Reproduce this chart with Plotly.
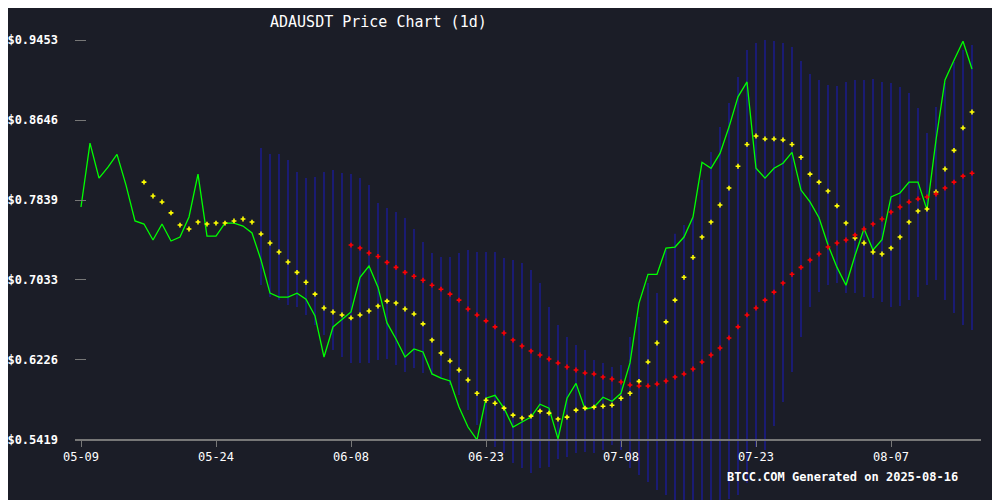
import pandas as pd
import plotly.graph_objects as go

# daily closes, 2025-05-09 .. 2025-08-16
start = "2025-05-09"
price = [0.7769, 0.8414, 0.806, 0.817, 0.830, 0.799, 0.7628, 0.7597, 0.7436, 0.7597,
         0.7426, 0.7466, 0.7668, 0.810, 0.7476, 0.7476, 0.7607, 0.7607, 0.7577, 0.7507,
         0.7234, 0.690, 0.686, 0.686, 0.690, 0.684, 0.667, 0.6256, 0.6559, 0.6639,
         0.671, 0.706, 0.7174, 0.696, 0.660, 0.6438, 0.6256, 0.6337, 0.6307, 0.6085,
         0.6044, 0.6014, 0.5752, 0.555, 0.5419, 0.584, 0.587, 0.574, 0.555, 0.560,
         0.565, 0.578, 0.574, 0.543, 0.584, 0.599, 0.573, 0.575, 0.585, 0.581,
         0.589, 0.6196, 0.680, 0.709, 0.709, 0.7355, 0.7365, 0.7466, 0.7668, 0.822,
         0.816, 0.831, 0.8575, 0.888, 0.903, 0.816, 0.806, 0.816, 0.821, 0.832,
         0.794, 0.782, 0.766, 0.7385, 0.716, 0.698, 0.728, 0.755, 0.7335, 0.744,
         0.787, 0.791, 0.802, 0.802, 0.774, 0.8445, 0.905, 0.925, 0.944, 0.916]

# short moving average (starts day 7)
sma_short = [None] * 7 + [
    0.802, 0.788, 0.782, 0.771, 0.7587, 0.7547, 0.7617, 0.7597, 0.7607, 0.7607,
    0.7628, 0.7648, 0.7617, 0.7497, 0.7406, 0.7315, 0.7214, 0.711, 0.701, 0.689,
    0.675, 0.671, 0.668, 0.665, 0.668, 0.672, 0.677, 0.682, 0.680, 0.674,
    0.669, 0.659, 0.6427, 0.6296, 0.6216, 0.6125, 0.6024, 0.589, 0.582, 0.579,
    0.574, 0.567, 0.564, 0.566, 0.571, 0.569, 0.563, 0.565, 0.572, 0.574,
    0.575, 0.576, 0.577, 0.584, 0.589, 0.601, 0.6206, 0.6397, 0.661, 0.683,
    0.706, 0.726, 0.7466, 0.7617, 0.7789, 0.796, 0.818, 0.840, 0.8485, 0.8455,
    0.8455, 0.8445, 0.840, 0.827, 0.810, 0.802, 0.793, 0.778, 0.7607, 0.7456,
    0.7406, 0.7315, 0.7295, 0.7355, 0.7466, 0.7617, 0.7728, 0.7748, 0.792, 0.8152,
    0.834, 0.8566, 0.8727]

# long moving average (starts day 30)
sma_long = [None] * 30 + [
    0.7385, 0.7355, 0.7305, 0.727, 0.721, 0.716, 0.711, 0.707, 0.703, 0.698,
    0.694, 0.689, 0.683, 0.674, 0.668, 0.662, 0.656, 0.6498, 0.6427, 0.6367,
    0.6316, 0.6276, 0.6236, 0.6196, 0.6155, 0.6125, 0.6095, 0.6085, 0.6054, 0.6034,
    0.6004, 0.5974, 0.5964, 0.5964, 0.5984, 0.6014, 0.6054, 0.6085, 0.6135, 0.6206,
    0.6276, 0.6347, 0.6448, 0.656, 0.668, 0.675, 0.683, 0.691, 0.7002, 0.709,
    0.716, 0.7234, 0.7295, 0.7365, 0.7406, 0.7436, 0.7486, 0.7547, 0.7597, 0.7648,
    0.7718, 0.7769, 0.782, 0.785, 0.787, 0.790, 0.796, 0.802, 0.808, 0.811]

# band upper / lower (starts day 20)
band_upper = [None] * 20 + [
    0.8364, 0.8303, 0.8303, 0.8243, 0.8122, 0.8061, 0.8071, 0.8122, 0.8142, 0.8112,
    0.8102, 0.8061, 0.7991, 0.7809, 0.7758, 0.7718, 0.7658, 0.7547, 0.7416, 0.7305,
    0.7265, 0.7265, 0.7305, 0.7335, 0.7315, 0.7315, 0.7315, 0.7255, 0.7234, 0.7204,
    0.7134, 0.7003, 0.6760, 0.6579, 0.6458, 0.6377, 0.6327, 0.6226, 0.6196, 0.6155,
    0.6176, 0.6458, 0.6660, 0.7003, 0.6902, 0.7335, 0.7500, 0.7587, 0.7658, 0.8041,
    0.8324, 0.8576, 0.8818, 0.9080, 0.9352, 0.9423, 0.9453, 0.9443, 0.9423, 0.9382,
    0.9241, 0.9110, 0.9050, 0.8999, 0.8989, 0.9029, 0.9050, 0.9050, 0.9060, 0.9029,
    0.9019, 0.8979, 0.8918, 0.8767, 0.8515, 0.8777, 0.9019, 0.9231, 0.9352, 0.9403]
band_lower = [None] * 20 + [
    0.6982, 0.6861, 0.6831, 0.6780, 0.6760, 0.6680, 0.6579, 0.6478, 0.6327, 0.6256,
    0.6196, 0.6196, 0.6196, 0.6226, 0.6236, 0.6175, 0.6105, 0.6145, 0.6095, 0.6075,
    0.6044, 0.5974, 0.5873, 0.5722, 0.5570, 0.5419, 0.5348, 0.5288, 0.5187, 0.5137,
    0.5086, 0.5137, 0.5147, 0.5227, 0.5248, 0.5288, 0.5298, 0.5288, 0.5318, 0.5369,
    0.5318, 0.5137, 0.5066, 0.4995, 0.4915, 0.4864, 0.4814, 0.4763, 0.4763, 0.4763,
    0.4763, 0.4763, 0.4824, 0.4864, 0.4985, 0.5348, 0.5318, 0.5560, 0.5802, 0.6105,
    0.6458, 0.6760, 0.6912, 0.6982, 0.7002, 0.6902, 0.6902, 0.6861, 0.6851, 0.6811,
    0.6760, 0.6770, 0.6831, 0.6861, 0.6982, 0.7033, 0.6831, 0.6700, 0.6579, 0.6528]

y_ticks = [0.5419, 0.6226, 0.7033, 0.7839, 0.8646, 0.9453]

dates = pd.date_range(start, periods=len(price), freq="D")

BG = "#1b1d27"
MONO = "DejaVu Sans Mono"

bx, by = [], []
for d, lo, hi in zip(dates, band_lower, band_upper):
    if lo is None:
        continue
    bx += [d, d, None]
    by += [lo, hi, None]

traces = [
    go.Scatter(x=bx, y=by, mode="lines", line=dict(color="#1c1ca8", width=1.2),
               hoverinfo="skip", showlegend=False),
    go.Scatter(x=dates, y=price, mode="lines", line=dict(color="#00ff00", width=1.3),
               showlegend=False),
    go.Scatter(x=dates, y=sma_short, mode="markers",
               marker=dict(symbol="cross", size=4, color="#ffff00", line=dict(width=0)),
               showlegend=False),
    go.Scatter(x=dates, y=sma_long, mode="markers",
               marker=dict(symbol="cross", size=4, color="#ff0000", line=dict(width=0)),
               showlegend=False),
]

fig = go.Figure(data=traces)
# page body adds ~8px offset, so layout is shifted up/left to compensate
fig.update_layout(
    width=1000, height=500,
    margin=dict(l=67, r=27, t=0, b=0),
    paper_bgcolor=BG, plot_bgcolor=BG,
    font=dict(family=MONO, color="white"),
    xaxis=dict(
        range=["2025-05-08 08:00", "2025-08-17"],
        tickvals=dates[::15], tickformat="%m-%d",
        anchor="free", position=0.136,
        showgrid=False, zeroline=False,
        showline=True, linecolor="#777777", linewidth=1.5,
        ticks="outside", ticklen=6, tickcolor="#777777",
        tickfont=dict(family=MONO, size=12, color="white"),
    ),
    yaxis=dict(
        range=[0.4733, 0.9776],
        tickvals=y_ticks, ticktext=[f"${v:.4f}" for v in y_ticks],
        showgrid=False, zeroline=False, showline=False,
        ticks="inside", ticklen=11, tickcolor="#777777",
        ticklabelstandoff=16,
        tickfont=dict(family=MONO, size=12, color="white", weight="bold"),
    ),
    annotations=[
        dict(text="ADAUSDT Price Chart (1d)", xref="paper", yref="paper",
             x=(378 - 75) / 906, y=(500 - 14) / 500, xanchor="center", yanchor="middle",
             showarrow=False, font=dict(family=MONO, size=15, color="white")),
        dict(text="<b>BTCC.COM Generated on 2025-08-16</b>", xref="paper", yref="paper",
             x=(842 - 75) / 906, y=(500 - 469) / 500, xanchor="center", yanchor="middle",
             showarrow=False, font=dict(family=MONO, size=12, color="white")),
    ],
)
fig.write_html("out.html")
